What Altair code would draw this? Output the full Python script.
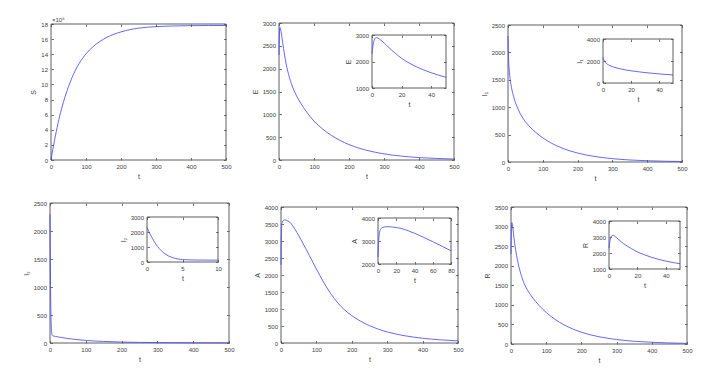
import altair as alt
import pandas as pd

W, H = 695, 357

# ---------------- data ----------------
S_t = [0, 5, 10, 15, 20, 30, 40, 50, 60, 70, 80, 90, 100, 120, 140, 160, 180, 200, 225, 250, 300, 350, 400, 450, 500]
S_v = [0, 1.35, 2.6, 3.75, 4.85, 6.75, 8.35, 9.7, 10.9, 11.9, 12.75, 13.45, 14.05, 15.0, 15.7, 16.25, 16.65,
       16.95, 17.25, 17.45, 17.65, 17.74, 17.78, 17.8, 17.8]

E_t = [0, 0.5, 1, 1.5, 2, 2.5, 3, 4, 5, 7, 10, 13, 16, 20, 25, 30, 35, 40, 45, 50, 60, 70, 80, 90, 100,
       125, 150, 175, 200, 250, 300, 350, 400, 450, 500]
E_v = [2300, 2530, 2700, 2810, 2870, 2895, 2900, 2885, 2850, 2760, 2600, 2440, 2300, 2120, 1945, 1800, 1680,
       1575, 1485, 1405, 1270, 1148, 1038, 940, 852, 676, 537, 426, 338, 213, 134, 85, 53, 34, 21]

I1_t = [0, 0.5, 1, 1.5, 2, 3, 4, 5, 7, 10, 13, 16, 20, 25, 30, 35, 40, 45, 50, 60, 70, 80, 90, 100,
        125, 150, 175, 200, 250, 300, 350, 400, 450, 500]
I1_v = [2300, 2120, 2000, 1905, 1830, 1720, 1640, 1575, 1475, 1360, 1270, 1195, 1110, 1025, 950, 885, 828,
        778, 735, 660, 595, 538, 486, 440, 343, 268, 209, 163, 100, 61, 37, 23, 14, 9]

I2_t = [0, 0.25, 0.5, 0.75, 1, 1.5, 2, 2.5, 3, 3.5, 4, 4.5, 5, 6, 7, 8, 10, 15, 20, 30, 40, 50, 75, 100,
        150, 200, 250, 300, 400, 500]
I2_v = [2300, 2040, 1800, 1580, 1380, 1030, 760, 560, 410, 305, 235, 190, 162, 140, 132, 128, 124, 118, 112,
        100, 90, 80, 61, 46, 28, 17, 11, 7, 3, 1.5]

A_t = [0, 0.5, 1, 1.5, 2, 3, 4, 5, 7, 10, 13, 16, 20, 25, 30, 35, 40, 45, 50, 60, 70, 80, 90, 100, 110,
       120, 130, 140, 150, 160, 170, 180, 190, 200, 225, 250, 275, 300, 325, 350, 375, 400, 450, 500]
A_v = [2300, 2850, 3150, 3330, 3430, 3525, 3565, 3588, 3610, 3620, 3618, 3608, 3585, 3550, 3490, 3415, 3335,
       3250, 3160, 2970, 2775, 2575, 2375, 2175, 1980, 1795, 1620, 1460, 1315, 1185, 1070, 970, 882, 805,
       640, 510, 407, 326, 262, 212, 172, 140, 93, 62]

R_t = [0, 0.5, 1, 1.5, 2, 2.5, 3, 4, 5, 7, 10, 13, 16, 20, 25, 30, 35, 40, 45, 50, 60, 70, 80, 90, 100,
       125, 150, 175, 200, 250, 300, 350, 400, 450, 500]
R_v = [2300, 2650, 2880, 3010, 3080, 3100, 3095, 3050, 2980, 2830, 2600, 2420, 2260, 2070, 1885, 1730, 1600,
       1495, 1405, 1330, 1200, 1085, 982, 890, 806, 630, 492, 385, 301, 185, 114, 70, 44, 27, 17]

T_TICKS = [0, 100, 200, 300, 400, 500]

# ---------------- style ----------------
FONT = "Liberation Sans, Arial, DejaVu Sans"
LINE = "#4040ff"
FRAME = "#4d4d4d"
TXT = "#404040"
TK = 2.5
LS = 6


def sc(dom, rng):
    return alt.Scale(domain=dom, range=rng, nice=False, zero=False)


def common(**kw):
    base = dict(domain=False, grid=False, tickSize=TK, tickColor=FRAME, tickWidth=0.8,
                labelFont=FONT, labelFontSize=LS, labelColor=TXT, format="d",
                titleFont=FONT, titleFontSize=7, titleFontWeight="normal", titleColor=TXT,
                zindex=1, labelOverlap=False, labelFlush=False)
    base.update(kw)
    return alt.Axis(**base)


def make_layers(t, v, xdom, ydom, box, xticks, yticks, ytitle, inset=False):
    """box = (xl, xr, yt, yb) in chart pixels."""
    xl, xr, yt, yb = box
    xs = sc(xdom, [xl, xr])
    ys = sc(ydom, [yb, yt])
    df = pd.DataFrame({"t": t, "v": v})
    if inset:
        df = df[df["t"] <= xdom[1]]
    fr = pd.DataFrame({"x0": [xdom[0]], "x1": [xdom[1]], "y0": [ydom[0]], "y1": [ydom[1]]})
    frame = alt.Chart(fr).mark_rect(
        fill="white", fillOpacity=1 if inset else 0, stroke=FRAME, strokeWidth=0.9
    ).encode(
        x=alt.X("x0:Q", scale=xs, axis=common(orient="top", offset=-(yt + TK), labels=False,
                                               values=xticks, title=None)),
        x2="x1:Q",
        y=alt.Y("y0:Q", scale=ys, axis=common(orient="right", offset=(xr - TK) - W, labels=False,
                                               values=yticks, title=None)),
        y2="y1:Q",
    )
    line = alt.Chart(df).mark_line(stroke=LINE, strokeWidth=0.8, interpolate="monotone").encode(
        x=alt.X("t:Q", scale=xs, axis=common(orient="bottom", offset=(yb - TK) - H, values=xticks,
                                              labelPadding=3.5, title="t", titlePadding=3)),
        y=alt.Y("v:Q", scale=ys, axis=common(orient="left", offset=-(xl + TK), values=yticks,
                                              labelPadding=3.5, title=ytitle, titlePadding=4)),
    )
    return [frame, line]


layers = []
# top row
layers += make_layers(S_t, S_v, [0, 500], [0, 18], (43, 218, 16, 152), T_TICKS, list(range(0, 19, 2)), "S")
layers += make_layers(E_t, E_v, [0, 500], [0, 3000], (271, 446, 15, 152), T_TICKS, list(range(0, 3001, 500)), "E")
layers += make_layers(E_t, E_v, [0, 50], [1000, 3000], (364, 438, 27, 80), [0, 20, 40], [1000, 2000, 3000], "E", inset=True)
layers += make_layers(I1_t, I1_v, [0, 500], [0, 2500], (500, 674, 17, 154), T_TICKS, list(range(0, 2501, 500)), "I₁")
layers += make_layers(I1_t, I1_v, [0, 50], [0, 4000], (595, 665, 31, 75), [0, 20, 40], [0, 2000, 4000], "I₁", inset=True)
# bottom row
layers += make_layers(I2_t, I2_v, [0, 500], [0, 2500], (42, 221, 195, 335), T_TICKS, list(range(0, 2501, 500)), "I₂")
layers += make_layers(I2_t, I2_v, [0, 10], [0, 3000], (139, 210, 209, 254), [0, 5, 10], [0, 1000, 2000, 3000], "I₂", inset=True)
layers += make_layers(A_t, A_v, [0, 500], [0, 4000], (273, 450, 199, 335), T_TICKS, list(range(0, 4001, 500)), "A")
layers += make_layers(A_t, A_v, [0, 80], [2000, 4000], (370, 443, 210, 256), [0, 20, 40, 60, 80], [2000, 3000, 4000], "A", inset=True)
layers += make_layers(R_t, R_v, [0, 500], [0, 3500], (503, 679, 199, 336), T_TICKS, list(range(0, 3501, 500)), "R")
layers += make_layers(R_t, R_v, [0, 50], [1000, 4000], (601, 672, 213, 261), [0, 20, 40], [1000, 2000, 3000, 4000], "R", inset=True)

# exponent label of the S panel
expo = alt.Chart(pd.DataFrame({"t": [0], "v": [18], "lab": ["×10⁵"]})).mark_text(
    align="left", baseline="bottom", dx=1, dy=-1, font=FONT, fontSize=6, color=TXT
).encode(
    x=alt.X("t:Q", scale=sc([0, 500], [43, 218]), axis=None),
    y=alt.Y("v:Q", scale=sc([0, 18], [152, 16]), axis=None),
    text="lab:N",
)
layers.append(expo)

chart = alt.layer(*layers).resolve_scale(x="independent", y="independent").resolve_axis(
    x="independent", y="independent"
).properties(
    width=W, height=H, padding=0, autosize=alt.AutoSizeParams(type="none"),
    background="white"
).configure_view(stroke=None)

chart.save("out.html", embed_options={"renderer": "svg", "actions": False})
